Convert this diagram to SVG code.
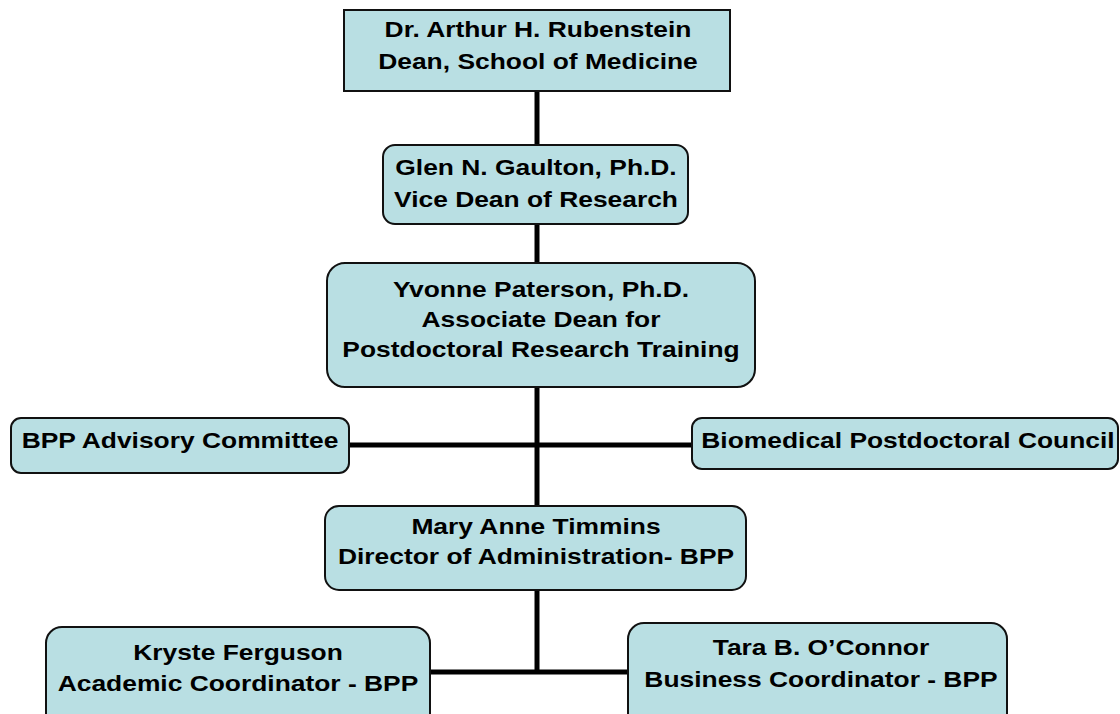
<svg xmlns="http://www.w3.org/2000/svg" width="1120" height="714" viewBox="0 0 1120 714">
<style>
.box{fill:#B9DFE3;stroke:#111;stroke-width:2}
.t{font-family:"Liberation Sans",Arial,sans-serif;font-weight:bold;font-size:22px;fill:#000;text-anchor:middle}
.c{stroke:#000;stroke-width:5;fill:none}
</style>
<rect width="1120" height="714" fill="#fff"/>
<g id="connectors">
<line class="c" x1="537" y1="91" x2="537" y2="145"/>
<line class="c" x1="537" y1="224" x2="537" y2="263"/>
<line class="c" x1="537" y1="387" x2="537" y2="506"/>
<line class="c" x1="349" y1="445" x2="692" y2="445"/>
<line class="c" x1="537" y1="590" x2="537" y2="672"/>
<line class="c" x1="430" y1="672" x2="628" y2="672"/>
</g>
<g id="dean">
<rect class="box" x="344" y="10" width="386" height="81"/>
<g transform="translate(538,0) scale(1.2,1)"><text class="t" x="0" y="37">Dr. Arthur H. Rubenstein</text><text class="t" x="0" y="69">Dean, School of Medicine</text></g>
</g>
<g id="vicedean">
<rect class="box" x="383" y="145" width="305" height="79" rx="12"/>
<g transform="translate(536,0) scale(1.2,1)"><text class="t" x="0" y="175">Glen N. Gaulton, Ph.D.</text><text class="t" x="0" y="207">Vice Dean of Research</text></g>
</g>
<g id="assocdean">
<rect class="box" x="327" y="263" width="428" height="124" rx="18"/>
<g transform="translate(541,0) scale(1.2,1)"><text class="t" x="0" y="297">Yvonne Paterson, Ph.D.</text><text class="t" x="0" y="327">Associate Dean for</text><text class="t" x="0" y="357">Postdoctoral Research Training</text></g>
</g>
<g id="advisory">
<rect class="box" x="11" y="418" width="338" height="55" rx="10"/>
<g transform="translate(180,0) scale(1.2,1)"><text class="t" x="0" y="448">BPP Advisory Committee</text></g>
</g>
<g id="council">
<rect class="box" x="692" y="418" width="426" height="51" rx="10"/>
<g transform="translate(908,0) scale(1.2,1)"><text class="t" x="0" y="448">Biomedical Postdoctoral Council</text></g>
</g>
<g id="director">
<rect class="box" x="325" y="506" width="421" height="84" rx="14"/>
<g transform="translate(536,0) scale(1.2,1)"><text class="t" x="0" y="534">Mary Anne Timmins</text><text class="t" x="0" y="564">Director of Administration- BPP</text></g>
</g>
<g id="academic">
<rect class="box" x="46" y="627" width="384" height="110" rx="16"/>
<g transform="translate(238,0) scale(1.2,1)"><text class="t" x="0" y="660">Kryste Ferguson</text><text class="t" x="0" y="691">Academic Coordinator - BPP</text></g>
</g>
<g id="business">
<rect class="box" x="628" y="623" width="379" height="110" rx="16"/>
<g transform="translate(821,0) scale(1.2,1)"><text class="t" x="0" y="655">Tara B. O’Connor</text><text class="t" x="0" y="687">Business Coordinator - BPP</text></g>
</g>
</svg>
